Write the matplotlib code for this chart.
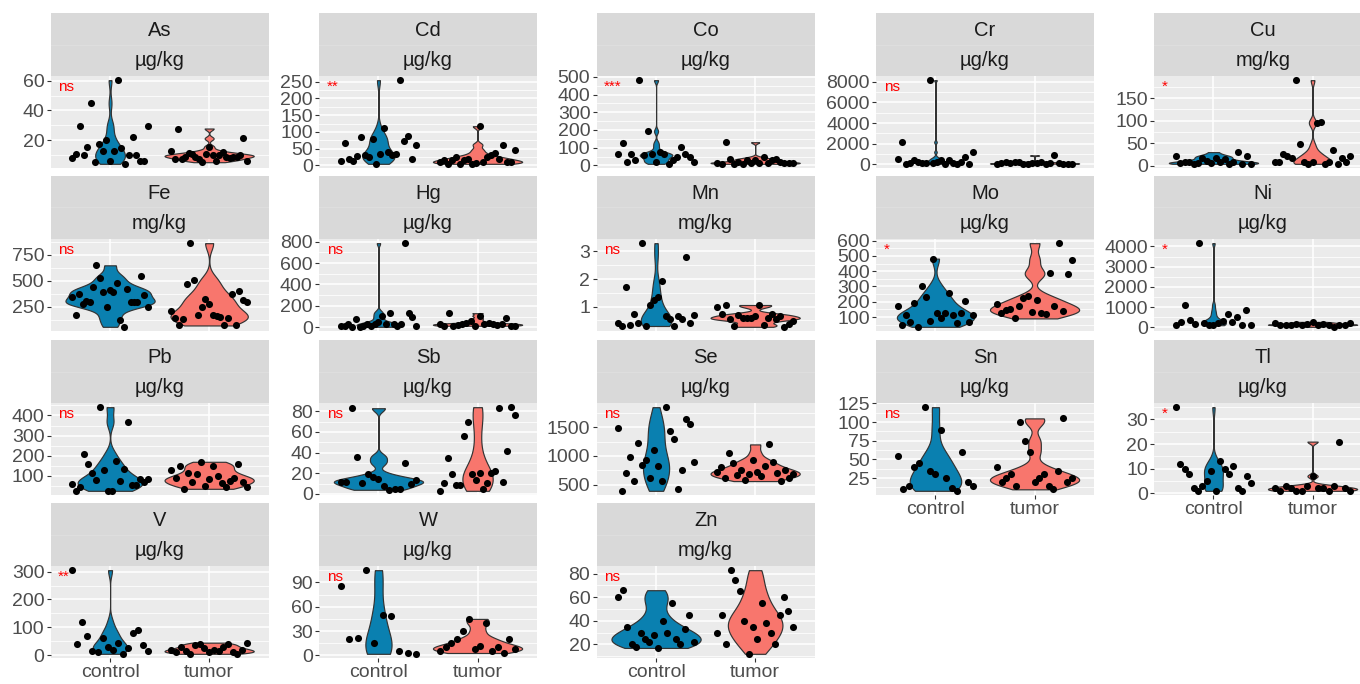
import numpy as np
import matplotlib
matplotlib.use("Agg")
import matplotlib.pyplot as plt

plt.rcParams['font.family'] = ['Liberation Sans', 'DejaVu Sans']

# ---------------- data ----------------
elements = ["As", "Cd", "Co", "Cr", "Cu", "Fe", "Hg", "Mn", "Mo", "Ni",
            "Pb", "Sb", "Se", "Sn", "Tl", "V", "W", "Zn"]
units = ["µg/kg", "µg/kg", "µg/kg", "µg/kg", "mg/kg", "mg/kg", "µg/kg", "mg/kg", "µg/kg", "µg/kg",
         "µg/kg", "µg/kg", "µg/kg", "µg/kg", "µg/kg", "µg/kg", "µg/kg", "mg/kg"]
signif = ["ns", "**", "***", "ns", "*", "ns", "ns", "ns", "*", "*",
          "ns", "ns", "ns", "ns", "*", "**", "ns", "ns"]
groups = ["control", "tumor"]

yticks = {
    "As": [20, 40, 60], "Cd": [0, 50, 100, 150, 200, 250], "Co": [0, 100, 200, 300, 400, 500],
    "Cr": [0, 2000, 4000, 6000, 8000], "Cu": [0, 50, 100, 150], "Fe": [250, 500, 750],
    "Hg": [0, 200, 400, 600, 800], "Mn": [1, 2, 3], "Mo": [100, 200, 300, 400, 500, 600],
    "Ni": [0, 1000, 2000, 3000, 4000], "Pb": [100, 200, 300, 400], "Sb": [0, 20, 40, 60, 80],
    "Se": [500, 1000, 1500], "Sn": [25, 50, 75, 100, 125], "Tl": [0, 10, 20, 30],
    "V": [0, 100, 200, 300], "W": [0, 30, 60, 90], "Zn": [20, 40, 60, 80],
}

# values listed in left-to-right order of the jittered points
as_control = [8.2, 10.7, 29.3, 10.0, 15.6, 44.9, 4.9, 17.3, 12.9, 20.0, 5.6, 12.9, 60.4, 14.7, 4.0, 9.8, 22.2, 9.8, 5.6, 6.0, 29.8]
as_tumor = [12.9, 7.1, 27.8, 7.1, 8.9, 11.1, 10.7, 8.9, 7.1, 5.1, 10.7, 15.6, 10.0, 6.0, 10.0, 12.2, 8.9, 7.8, 8.9, 8.9, 10.0, 21.1, 6.0]
cd_control = [12.8, 66, 20, 12, 29, 84, 31, 25, 79, 5, 33, 112, 40, 30, 33, 254, 74, 89, 20, 62]
cd_tumor = [10, 15, 5, 17, 25, 5, 15, 20, 5, 7, 117, 10, 25, 30, 37, 20, 62, 10, 10, 47]
co_control = [62, 127, 19, 62, 28, 481, 56, 193, 62, 19, 75, 62, 9, 32, 47, 103, 62, 47, 19]
co_tumor = [13, 9, 131, 37, 9, 19, 9, 32, 15, 32, 13, 47, 13, 28, 37, 19, 15, 15, 15]
cr_control = [546, 2153, 50, 120, 450, 225, 100, 128, 8161, 128, 225, 450, 64, 450, 128, 64, 225, 707, 64, 1189]
cr_tumor = [64, 150, 225, 128, 180, 225, 64, 64, 128, 128, 200, 64, 128, 868, 90, 64, 64, 64]
cu_control = [22, 5, 7, 9, 4, 5, 18, 11, 5, 18, 9, 15, 4, 7, 30, 4, 22, 4]
cu_tumor = [7, 7, 26, 22, 18, 190, 47, 7, 4, 7, 95, 96, 4, 7, 35, 4, 18, 7, 22]
fe_control = [345, 174, 377, 282, 307, 297, 440, 649, 528, 392, 250, 415, 396, 478, 127, 60, 418, 297, 297, 294, 544, 367, 247]
fe_tumor = [212, 149, 73, 139, 472, 861, 513, 174, 253, 329, 282, 177, 161, 158, 79, 142, 377, 79, 399, 316, 294]
hg_control = [15, 15, 31, 5, 77, 5, 9, 31, 15, 31, 46, 108, 31, 138, 31, 15, 31, 785, 138, 92, 9]
hg_tumor = [31, 15, 132, 15, 22, 31, 40, 62, 15, 108, 31, 40, 31, 22, 31, 83, 15, 15]
mn_control = [0.42, 0.30, 1.73, 0.33, 0.73, 0.42, 3.30, 0.30, 1.06, 1.24, 1.36, 1.93, 0.67, 0.54, 0.30, 0.67, 0.54, 2.79, 0.42, 0.70]
mn_tumor = [1.0, 0.73, 1.06, 0.54, 0.30, 0.70, 0.58, 0.58, 0.58, 0.67, 1.06, 0.33, 0.58, 0.73, 0.54, 0.67, 0.27, 0.36, 0.49]
mo_control = [171, 46, 111, 68, 192, 36, 304, 231, 74, 482, 124, 91, 128, 257, 111, 64, 128, 207, 68, 111]
mo_tumor = [186, 128, 145, 154, 91, 171, 224, 235, 132, 210, 128, 121, 385, 175, 583, 139, 381, 476]
ni_control = [113, 275, 1117, 356, 194, 4162, 227, 146, 113, 243, 308, 680, 275, 518, 146, 842, 113]
ni_tumor = [243, 113, 146, 146, 194, 113, 194, 275, 113, 194, 146, 32, 146, 113, 243]
pb_control = [61, 26, 44, 211, 157, 113, 80, 441, 130, 26, 26, 175, 77, 133, 367, 56, 56, 84, 72, 84]
pb_tumor = [130, 89, 149, 36, 116, 72, 108, 170, 51, 84, 149, 100, 67, 44, 75, 89, 157, 72, 44]
sb_control = [12, 12, 83, 36, 11, 19, 16, 14, 8, 4, 5, 5, 30, 10, 13]
sb_tumor = [3, 11, 35, 19, 9, 9, 56, 70, 19, 13, 20, 5, 11, 20, 22, 83, 12, 42, 84, 76]
se_control = [1480, 390, 700, 980, 560, 1230, 840, 930, 620, 1100, 820, 560, 1850, 1430, 1300, 425, 760, 1650, 1550, 900]
se_tumor = [720, 800, 620, 1050, 870, 660, 760, 580, 690, 930, 720, 640, 820, 1200, 900, 700, 560, 760, 620, 680]
sn_control = [55, 10, 15, 40, 45, 120, 35, 30, 90, 25, 12, 8, 60, 20, 15]
sn_tumor = [40, 20, 25, 30, 15, 100, 75, 60, 20, 25, 30, 15, 10, 35, 105, 20, 25]
tl_control = [35, 12, 10, 8, 2, 1, 3, 5, 9, 1, 13, 10, 8, 11, 2, 1, 7, 4]
tl_tumor = [2, 1, 3, 2, 1, 1, 3, 7, 2, 2, 1, 3, 21, 2, 1]
v_control = [305, 40, 120, 70, 15, 10, 60, 30, 20, 45, 5, 25, 80, 90, 35, 15]
v_tumor = [20, 10, 30, 15, 5, 35, 40, 25, 10, 20, 15, 30, 40, 10, 5, 20, 45]
w_control = [85, 20, 22, 105, 15, 50, 48, 5, 3, 2]
w_tumor = [5, 10, 15, 20, 30, 45, 8, 12, 40, 5, 10, 3, 20, 8]
zn_control = [60, 66, 35, 20, 18, 30, 25, 22, 28, 17, 40, 30, 55, 25, 20, 33, 45, 22]
zn_tumor = [30, 45, 20, 83, 75, 65, 40, 12, 35, 25, 55, 38, 30, 20, 45, 60, 48, 35]

values = {
    "As": (as_control, as_tumor), "Cd": (cd_control, cd_tumor), "Co": (co_control, co_tumor),
    "Cr": (cr_control, cr_tumor), "Cu": (cu_control, cu_tumor), "Fe": (fe_control, fe_tumor),
    "Hg": (hg_control, hg_tumor), "Mn": (mn_control, mn_tumor), "Mo": (mo_control, mo_tumor),
    "Ni": (ni_control, ni_tumor), "Pb": (pb_control, pb_tumor), "Sb": (sb_control, sb_tumor),
    "Se": (se_control, se_tumor), "Sn": (sn_control, sn_tumor), "Tl": (tl_control, tl_tumor),
    "V": (v_control, v_tumor), "W": (w_control, w_tumor), "Zn": (zn_control, zn_tumor),
}

# ---------------- style / layout ----------------
colors = ["#0A80B0", "#F8766D"]
W, H = 1360, 684
col_left = [50.6, 319.0, 596.6, 876.0, 1154.0]
panel_w = 218.0
row_top = [13.0, 176.0, 340.0, 503.0]
strip_h = 63.0
panel_h = 92.0
bottom_axis = {"Sn", "Tl", "V", "W", "Zn"}
FS_TICK = 14.0
FS_STRIP = 14.5

fig = plt.figure(figsize=(W / 100, H / 100), dpi=100)
fig.patch.set_facecolor("white")


def px_axes(l, t, w, h):
    return fig.add_axes([l / W, 1 - (t + h) / H, w / W, h / H])


def kde(vals, grid):
    v = np.asarray(vals, float)
    n = len(v)
    sd = np.std(v, ddof=1)
    q75, q25 = np.percentile(v, [75, 25])
    lo = min(sd, (q75 - q25) / 1.34)
    if lo <= 0:
        lo = sd if sd > 0 else 1.0
    bw = 0.9 * lo * n ** -0.2
    z = (grid[:, None] - v[None, :]) / bw
    return np.exp(-0.5 * z ** 2).sum(1) / (n * bw * np.sqrt(2 * np.pi))


for i, el in enumerate(elements):
    r, c = divmod(i, 5)
    left = col_left[c]
    top = row_top[r]

    # strip
    sax = px_axes(left, top, panel_w, strip_h)
    sax.set_facecolor("#D9D9D9")
    sax.set_xticks([]); sax.set_yticks([])
    for s in sax.spines.values():
        s.set_visible(False)
    sax.set_xlim(0, 1); sax.set_ylim(0, 1)
    sax.axhline(0.5, color="#E0E0E0", lw=0.6)
    sax.text(0.5, 0.73, el, ha="center", va="center", fontsize=FS_STRIP, color="#1A1A1A")
    sax.text(0.5, 0.24, units[i], ha="center", va="center", fontsize=FS_STRIP, color="#1A1A1A")

    # panel
    ax = px_axes(left, top + strip_h, panel_w, panel_h)
    ax.set_facecolor("#EBEBEB")
    ctrl, tum = values[el]
    data = [np.asarray(ctrl, float), np.asarray(tum, float)]
    grids, dens = [], []
    for d in data:
        g = np.linspace(d.min(), d.max(), 512)
        grids.append(g)
        dens.append(kde(d, g))
    dmax = max(dd.max() for dd in dens)
    for k, (g, dd) in enumerate(zip(grids, dens)):
        hw = 0.45 * dd / dmax
        ax.fill_betweenx(g, k + 1 - hw, k + 1 + hw, facecolor=colors[k],
                         edgecolor="#333333", lw=0.85, zorder=2)
    for k, d in enumerate(data):
        xs = k + 1 + np.linspace(-0.38, 0.38, len(d))
        ax.scatter(xs, d, s=26, c="black", lw=0, zorder=3)

    allv = np.concatenate(data)
    lo_v, hi_v = allv.min(), allv.max()
    rng = hi_v - lo_v
    ylim = (lo_v - 0.05 * rng, hi_v + 0.05 * rng)
    ax.set_xlim(0.4, 2.6)
    ax.set_ylim(*ylim)

    tk = yticks[el]
    step = tk[1] - tk[0]
    minor = [t - step / 2 for t in tk] + [tk[-1] + step / 2]
    minor = [m for m in minor if ylim[0] <= m <= ylim[1]]
    ax.set_yticks(tk)
    ax.set_yticklabels([str(t) for t in tk])
    ax.set_yticks(minor, minor=True)
    ax.set_xticks([1, 2])
    ax.grid(which="major", color="white", lw=1.1)
    ax.grid(which="minor", axis="y", color="white", lw=0.55)
    ax.set_axisbelow(True)
    for s in ax.spines.values():
        s.set_visible(False)
    ax.tick_params(axis="y", which="major", length=3, width=0.8, color="#333333",
                   labelsize=FS_TICK, labelcolor="#4D4D4D", pad=1.5)
    ax.tick_params(axis="y", which="minor", length=0)
    if el in bottom_axis:
        ax.set_xticklabels(groups)
        ax.tick_params(axis="x", length=3, width=0.8, color="#333333",
                       labelsize=FS_TICK, labelcolor="#4D4D4D", pad=1.5)
    else:
        ax.tick_params(axis="x", length=0, labelbottom=False)

    ax.text(0.035, 0.84, signif[i], transform=ax.transAxes, ha="left", va="baseline",
            fontsize=11, color="#FF0000", zorder=4)

fig.savefig("out.png", dpi=100, facecolor="white")
